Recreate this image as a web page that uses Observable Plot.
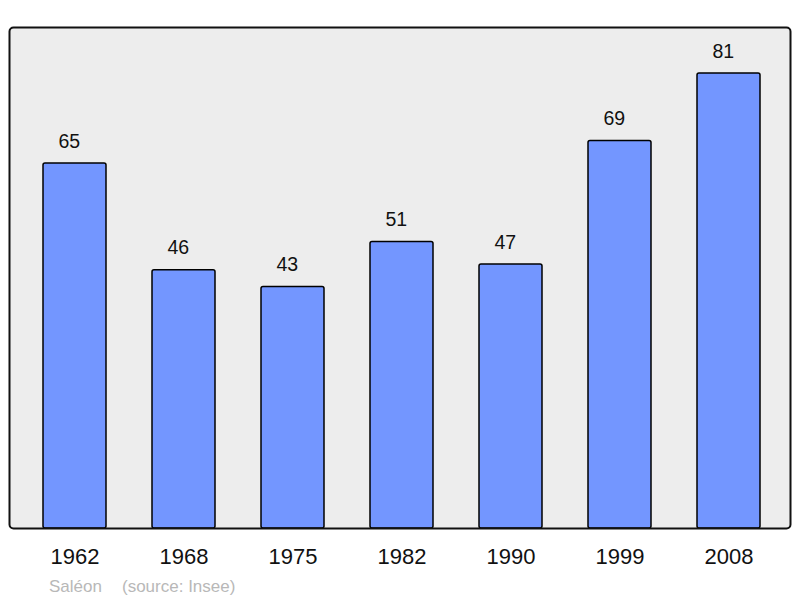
<!DOCTYPE html>
<html>
<head>
<meta charset="utf-8">
<script src="https://cdn.jsdelivr.net/npm/d3@7"></script>
<script src="https://cdn.jsdelivr.net/npm/@observablehq/plot@0.6"></script>
<style>
  body { margin: 0; background: #fff; font-family: "Liberation Sans", Arial, sans-serif; }
  #caption { position: relative; height: 26px; font-size: 17px; color: #b8b8b8; white-space: pre; }
  #caption span { position: absolute; top: 3px; line-height: 24px; }
</style>
</head>
<body>
<div id="chart"></div>
<div id="caption"><span style="left:49px">Saléon</span><span style="left:122px">(source: Insee)</span></div>
<script>
const years = ["1962", "1968", "1975", "1982", "1990", "1999", "2008"];
const population = [65, 46, 43, 51, 47, 69, 81];

const data = years.map((y, i) => ({year: y, value: population[i]}));

const chart = Plot.plot({
  width: 800,
  height: 572,
  marginLeft: 9,
  marginRight: 10,
  marginTop: 27,
  marginBottom: 44,
  style: {fontFamily: "Liberation Sans, Arial, sans-serif", background: "transparent", overflow: "visible"},
  x: {domain: years, range: [42, 761], paddingInner: 0.4238, paddingOuter: 0, axis: null},
  y: {domain: [0, 89.2], axis: null},
  marks: [
    Plot.frame({fill: "#ededed", stroke: "none", rx: 4}),
    Plot.barY(data, {x: "year", y: "value", fill: "#7396ff", stroke: "#000", strokeWidth: 1.5, rx: 2}),
    Plot.text(data, {x: "year", y: "value", text: d => String(d.value), dy: -22, dx: -5.7, fontSize: 19.5, fill: "#111", lineAnchor: "middle"}),
    Plot.text(data, {x: "year", text: "year", frameAnchor: "bottom", dy: 28.5, fontSize: 22, fill: "#111", lineAnchor: "middle"}),
    Plot.frame({stroke: "#111", strokeWidth: 2, rx: 4})
  ]
});
document.getElementById("chart").appendChild(chart);
</script>
</body>
</html>
